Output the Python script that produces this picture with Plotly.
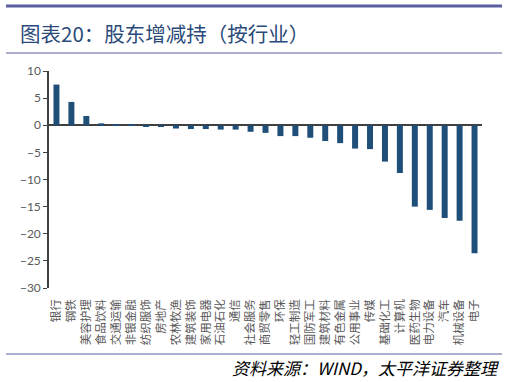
import plotly.graph_objects as go

W, H = 507, 382

categories = ["银行", "钢铁", "美容护理", "食品饮料", "交通运输", "非银金融", "纺织服饰", "房地产",
              "农林牧渔", "建筑装饰", "家用电器", "石油石化", "通信", "社会服务", "商贸零售", "环保",
              "轻工制造", "国防军工", "建筑材料", "有色金属", "公用事业", "传媒", "基础化工", "计算机",
              "医药生物", "电力设备", "汽车", "机械设备", "电子"]
values = [7.5, 4.3, 1.7, 0.35, 0.2, 0.2, -0.2, -0.3,
          -0.6, -0.7, -0.7, -0.8, -0.8, -1.2, -1.4, -2.0,
          -2.0, -2.3, -2.9, -3.3, -4.3, -4.4, -6.7, -8.8,
          -15.0, -15.6, -17.1, -17.6, -23.6]
y_ticks = [10, 5, 0, -5, -10, -15, -20, -25, -30]

title_text = "图表20：股东增减持（按行业）"
source_text = "资料来源：WIND，太平洋证券整理"

def px(x):
    return x / W

def py(y):
    return 1 - y / H

fig = go.Figure(go.Bar(x=categories, y=values, marker=dict(color="#1f4e79", line=dict(width=0))))

line_col = "#5b5f9f"
fig.update_layout(
    template="none",
    width=W, height=H,
    margin=dict(l=0, r=0, t=0, b=0),
    paper_bgcolor="white", plot_bgcolor="white",
    showlegend=False,
    bargap=0.6,
    xaxis=dict(domain=[px(49), px(482)], type="category", showline=False, showgrid=False,
               zeroline=False, ticks="", tickangle=-90, automargin=False,
               ticklabelstandoff=8,
               tickfont=dict(family="Noto Sans CJK SC", size=11.5, color="#595959")),
    yaxis=dict(domain=[py(288), py(71)], range=[-30, 10], tickvals=y_ticks,
               showline=True, linecolor="#404040", linewidth=1.5,
               ticks="outside", ticklen=4, tickcolor="#404040", tickwidth=1.2,
               showgrid=False, zeroline=True, zerolinecolor="#404040", zerolinewidth=1.5,
               automargin=False,
               tickfont=dict(family="Lato", size=12, color="#595959")),
    shapes=[
        dict(type="line", xref="paper", yref="paper", x0=px(6), x1=px(502), y0=py(6), y1=py(6),
             line=dict(color=line_col, width=3)),
        dict(type="line", xref="paper", yref="paper", x0=px(6), x1=px(502), y0=py(53), y1=py(53),
             line=dict(color=line_col, width=1.2)),
        dict(type="line", xref="paper", yref="paper", x0=px(6), x1=px(502), y0=py(354), y1=py(354),
             line=dict(color=line_col, width=1.2)),
    ],
    annotations=[
        dict(text=title_text, xref="paper", yref="paper", x=px(18), y=py(33), xanchor="left",
             yanchor="middle", showarrow=False,
             font=dict(family="Noto Sans CJK SC", size=20.5, color="#2a4a7a")),
        dict(text="<i>" + source_text + "</i>", xref="paper", yref="paper", x=px(501), y=py(367),
             xanchor="right", yanchor="middle", showarrow=False,
             font=dict(family="Noto Sans CJK SC", size=17, color="#000000")),
    ],
)

fig.write_html("out.html", config={"displayModeBar": False},
               post_script="document.body.style.margin='0';document.body.style.padding='0';")
